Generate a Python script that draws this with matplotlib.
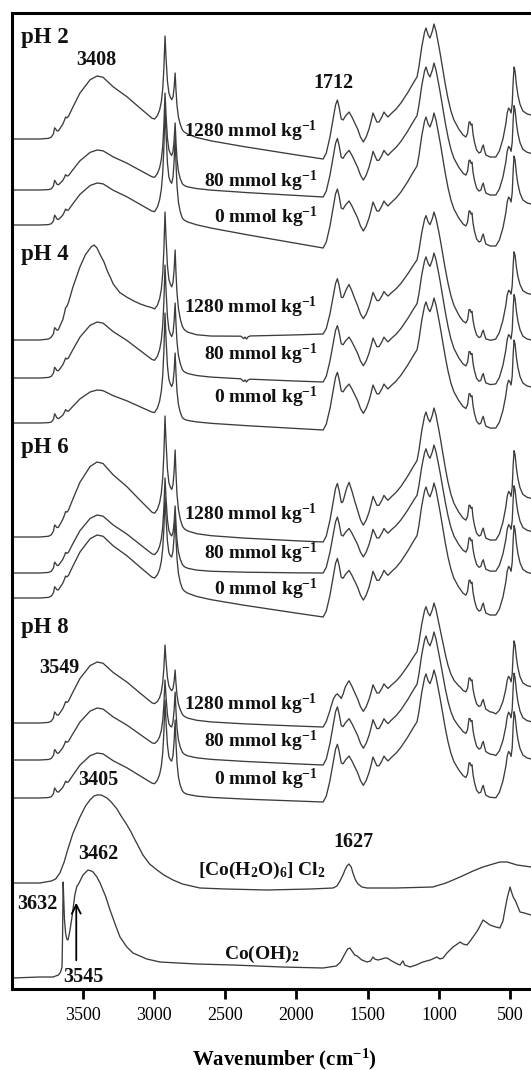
import numpy as np
import matplotlib
matplotlib.use("Agg")
import matplotlib.pyplot as plt

plt.rcParams['font.family'] = ['Liberation Serif', 'DejaVu Serif']
plt.rcParams['mathtext.fontset'] = 'custom'
plt.rcParams['mathtext.rm'] = 'Liberation Serif:bold'
plt.rcParams['mathtext.it'] = 'Liberation Serif:bold'
plt.rcParams['mathtext.bf'] = 'Liberation Serif:bold'

# ---------------- band shapes (wavenumber, value) ----------------
# broad O-H stretching band (normalised, peak = 1)
OHB_WN = [3994, 3900, 3800, 3740, 3720, 3700, 3673, 3638, 3610, 3570, 3519, 3448, 3399, 3357,
          3287, 3189, 3097, 3013, 2985, 2950, 2900, 2870, 2850, 2830, 2810, 2790, 2760, 2700,
          2600, 2400, 2000, 1812]
OHB_V = [0, 0, 0, 0.01, 0.03, 0.06, 0.12, 0.24, 0.31, 0.5, 0.73, 0.94, 1.0, 0.98,
         0.83, 0.67, 0.49, 0.33, 0.31, 0.29, 0.26, 0.24, 0.22, 0.19, 0.15, 0.11, 0.08, 0.05,
         0.03, 0.015, 0.003, 0]
# narrower O-H band (pH 4, 1280 mmol/kg)
OHN_WN = [3994, 3800, 3740, 3720, 3700, 3673, 3638, 3610, 3570, 3519, 3480, 3440, 3420, 3400,
          3378, 3350, 3328, 3300, 3286, 3240, 3189, 3140, 3097, 3050, 3013, 2985, 2950, 2900,
          2870, 2850, 2830, 2810, 2790, 2760, 2700, 2600, 2400, 2000, 1812]
OHN_V = [0, 0, 0.01, 0.03, 0.05, 0.1, 0.22, 0.34, 0.55, 0.77, 0.9, 0.98, 1.0, 0.97,
         0.9, 0.82, 0.73, 0.64, 0.59, 0.5, 0.45, 0.41, 0.38, 0.355, 0.34, 0.32, 0.3, 0.27,
         0.25, 0.23, 0.2, 0.15, 0.11, 0.08, 0.05, 0.03, 0.015, 0.003, 0]
# C-H stretching bands (normalised)
C2920_WN = [2995, 2975, 2960, 2948, 2938, 2930, 2922, 2915, 2905, 2895, 2885, 2875, 2865,
            2850, 2835, 2820, 2800]
C2920_V = [0, 0.05, 0.12, 0.22, 0.38, 0.62, 1.0, 0.75, 0.48, 0.35, 0.28, 0.22, 0.16,
           0.1, 0.06, 0.03, 0]
C2850_WN = [2895, 2885, 2875, 2866, 2858, 2851, 2845, 2838, 2828, 2815, 2800, 2780]
C2850_V = [0, 0.05, 0.12, 0.3, 0.6, 1.0, 0.65, 0.35, 0.15, 0.06, 0.02, 0]
# small clay O-H features (px)
KAO_WN = [3720, 3705, 3697, 3690, 3682, 3670, 3640, 3628, 3620, 3612, 3600]
KAO_V = [0, 2, 7, 5, 2, 0, 0, 2, 4, 2, 0]
# CO2 artefact
CO2_WN = [2390, 2370, 2360, 2350, 2340, 2325]
CO2_V = [0, -2.5, -1, -3, -1, 0]
# baseline drift between 2780 and 1812 (fraction)
SLOPE_WN = [3994, 2780, 1812, 353]
SLOPE_V = [0, 0, 1, 1]
# fingerprint region above the 1812 valley (px, peak 1034 = 135)
FP_WN = [1830, 1812, 1790, 1764, 1740, 1725, 1712, 1700, 1685, 1672, 1655, 1630, 1610, 1590,
         1570, 1550, 1530, 1510, 1490, 1475, 1462, 1450, 1435, 1420, 1400, 1385, 1370, 1357,
         1330, 1300, 1266, 1220, 1175, 1153, 1140, 1120, 1100, 1090, 1075, 1062, 1045, 1034,
         1020, 1005, 990, 975, 955, 935, 915, 894, 860, 830, 810, 798, 788, 781, 774, 767,
         760, 750, 735, 718, 705, 695, 688, 680, 670, 640, 600, 575, 550, 530, 520, 510,
         500, 493, 485, 478, 472, 465, 455, 445, 431, 410, 380, 353]
FP_V = [0, 0, 6, 22, 42, 54, 59, 52, 40, 39, 43, 47, 42, 36,
        30, 22, 17, 22, 30, 38, 46, 42, 37, 37, 42, 47, 44, 42,
        46, 50, 56, 66, 77, 82, 92, 112, 127, 131, 124, 121, 128, 135,
        128, 117, 105, 92, 75, 60, 48, 39, 30, 24, 22, 26, 37, 37, 34, 35,
        25, 17, 9, 6, 7, 12, 14, 9, 4, 2, 2, 8, 20, 35, 46, 51,
        49, 46, 55, 78, 92, 88, 74, 64, 55, 48, 45, 44]
COOH_WN = [1790, 1760, 1740, 1725, 1712, 1700, 1688, 1675, 1660, 1640]
COOH_V = [0, 0.2, 0.5, 0.85, 1, 0.8, 0.45, 0.2, 0.05, 0]
COO_WN = [1680, 1665, 1645, 1630, 1615, 1595, 1575, 1555, 1540]
COO_V = [0, 0.3, 0.8, 1, 0.8, 0.45, 0.2, 0.05, 0]
LOW_WN = [1000, 950, 900, 850, 800, 700, 620, 570, 520, 470, 430]
LOW_V = [0, 0.3, 0.7, 0.95, 1, 1, 0.85, 0.6, 0.3, 0.1, 0]

# ---------------- the twelve sample spectra (top to bottom) ----------------
SAMPLE_PH = ['pH 2'] * 3 + ['pH 4'] * 3 + ['pH 6'] * 3 + ['pH 8'] * 3
SAMPLE_CONC = [1280, 80, 0] * 4
BASE_H = [850, 799, 764, 649, 611, 566, 452, 416, 391, 266, 229, 191]
OH_H = [63, 40, 42, 95, 56, 33, 75, 58, 63, 61, 52, 45]
NARROW_W = [0, 0, 0, 1, 0, 0, 0, 0, 0, 0, 0, 0]
H2920 = [103, 97, 118, 128, 113, 110, 121, 95, 101, 78, 80, 98]
H2850 = [66, 67, 88, 90, 75, 70, 87, 67, 83, 53, 68, 78]
VALLEY_D = [-20, -7, -23, 6, -4, -7, -5, 0, -19, -4, -5, -4]
FP_H = [135, 134, 135, 122, 129, 132, 134, 128, 134, 124, 133, 132]
D1712 = [0, 0, 0, 2, 0, 0, 0, 0, 0, -21, 0, 0]
D1630 = [0, 0, 0, 7, 0, 0, 13, 0, 0, 3, 0, 0]
DLOW = [0, 0, 0, -9, -5, 0, 0, 0, 0, 15, 10, 3]
CO2_F = [0, 0, 0, 1, 1, 0, 0, 0, 0, 0, 0, 0]

# ---------------- reference spectra ----------------
COCL2_WN = [3994, 3800, 3720, 3690, 3660, 3630, 3610, 3570, 3519, 3480, 3449, 3420, 3399, 3370,
            3329, 3300, 3259, 3230, 3189, 3160, 3147, 3110, 3077, 3030, 2978, 2930, 2866, 2800,
            2677, 2500, 2206, 1900, 1743, 1715, 1694, 1670, 1659, 1645, 1631, 1615, 1603, 1585,
            1567, 1540, 1504, 1300, 1042, 950, 851, 760, 690, 620, 571, 520, 451, 400, 353]
COCL2_H = [106, 106, 108, 110, 116, 127, 137, 155, 172, 183, 189, 193, 194, 194,
           191, 187, 180, 173, 164, 157, 153, 143, 134, 125, 119, 114, 109, 105,
           101, 100, 99, 100, 101, 103, 108, 115, 119, 123, 125, 122, 116, 109,
           105, 102, 101, 101, 102, 106, 112, 118, 122, 125, 127, 127, 124, 123, 122]
COOH2_WN = [3994, 3800, 3708, 3670, 3655, 3645, 3641, 3637, 3633, 3628, 3620, 3612, 3603, 3590,
            3575, 3554, 3540, 3533, 3515, 3498, 3463, 3440, 3427, 3400, 3378, 3340, 3308, 3270,
            3238, 3190, 3147, 3050, 2957, 2700, 2444, 2100, 1813, 1720, 1690, 1660, 1640, 1624,
            1605, 1590, 1574, 1540, 1504, 1480, 1462, 1450, 1427, 1400, 1380, 1363, 1330, 1290,
            1272, 1258, 1251, 1240, 1202, 1160, 1112, 1060, 1013, 992, 970, 943, 900, 860,
            851, 830, 802, 780, 760, 730, 700, 690, 670, 641, 600, 571, 550, 536, 520, 500,
            490, 475, 465, 430, 400, 353]
COOH2_H = [11, 12, 12, 14, 17, 22, 55, 107, 90, 70, 56, 50, 49, 58,
           72, 95, 103, 104, 109, 114, 119, 118, 117, 112, 106, 93, 79, 64,
           52, 42, 36, 30, 27, 25, 24, 22, 21, 23, 27, 35, 40, 41,
           37, 34, 33, 29, 27, 28, 32, 30, 29, 30, 31, 31, 28, 25,
           24, 27, 28, 24, 22, 24, 27, 29, 32, 30, 31, 36, 42, 46,
           47, 45, 44, 48, 52, 58, 66, 69, 67, 64, 62, 61, 68, 79, 91, 102,
           97, 91, 89, 77, 76, 74]

XTICKS = [3500, 3000, 2500, 2000, 1500, 1000, 500]


def tpl(grid, wn, v):
    wn = np.asarray(wn, float)
    v = np.asarray(v, float)
    o = np.argsort(wn)
    return np.interp(grid, wn[o], v[o])


grid = np.unique(np.concatenate([OHB_WN, OHN_WN, C2920_WN, C2850_WN, KAO_WN, CO2_WN, SLOPE_WN,
                                 FP_WN, COOH_WN, COO_WN, LOW_WN]).astype(float))[::-1]

fig = plt.figure(figsize=(5.31, 10.70), dpi=100)
ax = fig.add_axes([12.3 / 531, 81 / 1070, (531 - 12.3) / 531, 976.3 / 1070])
ax.set_xlim(3994, 353)
ax.set_ylim(0, 976.3)

lc = '#3c3c3c'
lw = 0.95
for i in range(len(BASE_H)):
    w = NARROW_W[i]
    ohmix = (1 - w) * tpl(grid, OHB_WN, OHB_V) + w * tpl(grid, OHN_WN, OHN_V)
    oh_at = lambda x: (1 - w) * tpl([x], OHB_WN, OHB_V)[0] + w * tpl([x], OHN_WN, OHN_V)[0]
    a1 = H2920[i] - OH_H[i] * oh_at(2922)
    a2 = H2850[i] - OH_H[i] * oh_at(2851) - a1 * tpl([2851], C2920_WN, C2920_V)[0]
    y = (BASE_H[i] + OH_H[i] * ohmix
         + a1 * tpl(grid, C2920_WN, C2920_V) + a2 * tpl(grid, C2850_WN, C2850_V)
         + tpl(grid, KAO_WN, KAO_V) + CO2_F[i] * tpl(grid, CO2_WN, CO2_V)
         + VALLEY_D[i] * tpl(grid, SLOPE_WN, SLOPE_V)
         + FP_H[i] / 135.0 * tpl(grid, FP_WN, FP_V)
         + D1712[i] * tpl(grid, COOH_WN, COOH_V) + D1630[i] * tpl(grid, COO_WN, COO_V)
         + DLOW[i] * tpl(grid, LOW_WN, LOW_V))
    ax.plot(grid, y, color=lc, lw=lw, solid_joinstyle='round')

ax.plot(COCL2_WN, COCL2_H, color=lc, lw=lw)
ax.plot(COOH2_WN, COOH2_H, color=lc, lw=lw)

# ---------------- labels ----------------
bold = dict(fontweight='bold', color='#111111')
for lab, yb in zip(['pH 2', 'pH 4', 'pH 6', 'pH 8'], [946, 729, 536, 356]):
    ax.text(3933, yb, lab, fontsize=16.5, ha='left', va='baseline', **bold)

conc_y = [852, 802, 766, 676, 629, 586, 469, 430, 394, 279, 242, 204]
for c, yb in zip(SAMPLE_CONC, conc_y):
    ax.text(1852, yb, f'{c} mmol kg$^{{-1}}$', fontsize=14, ha='right', va='baseline', **bold)

peak_labels = [('3408', 3406, 924), ('1712', 1743, 901), ('3549', 3666, 316),
               ('3405', 3389, 204), ('1627', 1598, 142), ('3462', 3389, 130),
               ('3632', 3820, 80), ('3545', 3494, 7)]
for t, xw, yb in peak_labels:
    ax.text(xw, yb, t, fontsize=14.5, ha='center', va='baseline', **bold)

ax.text(2690, 114, '[Co(H$_2$O)$_6$] Cl$_2$', fontsize=14, ha='left', va='baseline', **bold)
ax.text(2240, 30, 'Co(OH)$_2$', fontsize=14, ha='center', va='baseline', **bold)

ax.annotate('', xy=(3545, 89), xytext=(3545, 26),
            arrowprops=dict(arrowstyle='->', color='black', lw=1.3, mutation_scale=16))

# ---------------- axes styling ----------------
for s in ['left', 'top', 'bottom']:
    ax.spines[s].set_linewidth(2.2)
    ax.spines[s].set_color('black')
ax.spines['right'].set_visible(False)
ax.set_yticks([])
ax.set_xticks(XTICKS)
ax.set_xticklabels([str(t) for t in XTICKS])
ax.tick_params(axis='x', direction='out', length=7, width=2, labelsize=13, pad=6,
               colors='black')
fig.text(284 / 531, 5 / 1070, 'Wavenumber (cm$^{-1}$)', fontsize=15, fontweight='bold',
         ha='center', va='baseline')

fig.savefig('out.png', dpi=100)
